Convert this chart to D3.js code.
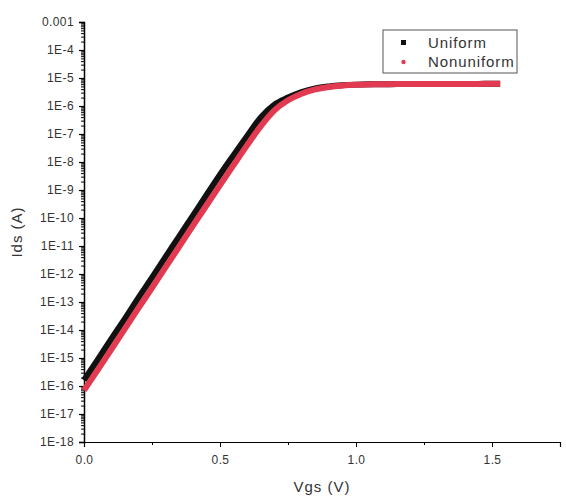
<!DOCTYPE html>
<html>
<head>
<meta charset="utf-8">
<script src="https://cdn.jsdelivr.net/npm/d3@7"></script>
<style>
  body { margin: 0; background: #fff; }
  text { font-family: "Liberation Sans", Arial, sans-serif; fill: #333; }
</style>
</head>
<body>
<div id="chart"></div>
<script>
var vgs = [0, 0.05, 0.1, 0.15, 0.2, 0.25, 0.3, 0.35, 0.4, 0.45, 0.5, 0.55, 0.6, 0.65, 0.7, 0.75,
	0.8, 0.85, 0.9, 0.95, 1.0, 1.05, 1.1, 1.15, 1.2, 1.25, 1.3, 1.35, 1.4, 1.45, 1.5, 1.53];

var uniform = [1.6e-16, 8.5e-16, 4.7e-15, 2.5e-14, 1.4e-13, 7.4e-13, 4.1e-12, 2.2e-11, 1.2e-10, 6.5e-10,
	3.5e-9, 1.75e-8, 8.5e-8, 3.9e-7, 1.12e-6, 2.0e-6, 3.16e-6, 4.27e-6, 5.0e-6, 5.5e-6,
	5.8e-6, 5.95e-6, 6.0e-6, 6.05e-6, 6.1e-6, 6.1e-6, 6.1e-6, 6.15e-6, 6.15e-6, 6.15e-6, 6.2e-6, 6.2e-6];

var nonuniform = [7.0e-17, 3.7e-16, 2.0e-15, 1.1e-14, 6.0e-14, 3.2e-13, 1.75e-12, 9.5e-12, 5.2e-11, 2.8e-10,
	1.5e-9, 7.8e-9, 4.0e-8, 1.9e-7, 7.0e-7, 1.6e-6, 2.75e-6, 3.9e-6, 4.8e-6, 5.4e-6,
	5.75e-6, 5.9e-6, 6.0e-6, 6.05e-6, 6.05e-6, 6.1e-6, 6.1e-6, 6.15e-6, 6.15e-6, 6.15e-6, 6.2e-6, 6.2e-6];

var xTicks = [0, 0.5, 1.0, 1.5],
	xMinor = [0.25, 0.75, 1.25, 1.75],
	yTicks = [1e-18, 1e-17, 1e-16, 1e-15, 1e-14, 1e-13, 1e-12, 1e-11, 1e-10, 1e-9, 1e-8, 1e-7, 1e-6, 1e-5, 1e-4, 1e-3],
	seriesNames = ["Uniform", "Nonuniform"];

var width = 566,
	height = 498,
	margin = {top: 22, right: 6, bottom: 56, left: 84};

var svg = d3.select("#chart")
	.append("svg")
	.attr("width", width)
	.attr("height", height);

var x = d3.scaleLinear().domain([0, 1.75]).range([margin.left, width - margin.right]);
var y = d3.scaleLog().domain([1e-18, 1e-3]).range([height - margin.bottom, margin.top]);

// minor log ticks on y
var yMinor = [];
yTicks.slice(0, -1).forEach(function(t){
	for (var k = 2; k < 10; k++) yMinor.push(t * k);
});

svg.append("g")
	.attr("transform", "translate(" + margin.left + ",0)")
	.call(d3.axisLeft(y).tickValues(yMinor).tickSize(3).tickFormat(""))
	.call(function(g){ g.select(".domain").remove(); });

svg.append("g")
	.attr("transform", "translate(" + margin.left + ",0)")
	.call(d3.axisLeft(y).tickValues(yTicks).tickSize(5).tickPadding(5)
		.tickFormat(function(d){
			var e = Math.round(Math.log10(d));
			return e === -3 ? "0.001" : "1E" + e;
		}))
	.call(function(g){
		g.select(".domain").attr("stroke-width", 1.5);
		g.selectAll(".tick line").attr("stroke-width", 1.2);
		g.selectAll("text").style("font-size", "12px").style("letter-spacing", "0.4px").attr("fill", "#555");
	});

svg.append("g")
	.attr("transform", "translate(0," + (height - margin.bottom) + ")")
	.call(d3.axisBottom(x).tickValues(xMinor).tickSize(3).tickFormat(""))
	.call(function(g){ g.select(".domain").remove(); });

svg.append("g")
	.attr("transform", "translate(0," + (height - margin.bottom) + ")")
	.call(d3.axisBottom(x).tickValues(xTicks).tickSize(5).tickPadding(8).tickFormat(d3.format(".1f")))
	.call(function(g){
		g.select(".domain").attr("stroke-width", 1.2);
		g.selectAll("text").style("font-size", "12px").style("letter-spacing", "0.4px").attr("fill", "#555");
	});

var line = d3.line()
	.x(function(d){ return x(d[0]); })
	.y(function(d){ return y(d[1]); })
	.curve(d3.curveMonotoneX);

svg.append("path")
	.datum(d3.zip(vgs, uniform))
	.attr("d", line)
	.attr("fill", "none")
	.attr("stroke", "#111")
	.attr("stroke-width", 6);

svg.append("path")
	.datum(d3.zip(vgs, nonuniform))
	.attr("d", line)
	.attr("fill", "none")
	.attr("stroke", "#e23a50")
	.attr("stroke-width", 6);

// axis titles
svg.append("text")
	.attr("x", (margin.left + width - margin.right) / 2)
	.attr("y", 492)
	.attr("text-anchor", "middle")
	.style("font-size", "15px")
	.style("letter-spacing", "1px")
	.text("Vgs (V)");

svg.append("text")
	.attr("transform", "translate(22," + ((margin.top + height - margin.bottom) / 2) + ") rotate(-90)")
	.attr("text-anchor", "middle")
	.style("font-size", "15px")
	.style("letter-spacing", "1px")
	.text("Ids (A)");

// legend
var legend = svg.append("g");
legend.append("rect")
	.attr("x", 383).attr("y", 30)
	.attr("width", 134).attr("height", 43)
	.attr("fill", "none")
	.attr("stroke", "#555");
legend.append("rect")
	.attr("x", 401).attr("y", 40)
	.attr("width", 5).attr("height", 5)
	.attr("fill", "#111");
legend.append("circle")
	.attr("cx", 403.5).attr("cy", 62)
	.attr("r", 2.2)
	.attr("fill", "#e23a50");
legend.selectAll("text.lg")
	.data(seriesNames)
	.enter()
	.append("text")
	.attr("class", "lg")
	.attr("x", 428)
	.attr("y", function(d, i){ return 48 + i * 19; })
	.style("font-size", "15px")
	.style("letter-spacing", "0.9px")
	.text(function(d){ return d; });
</script>
</body>
</html>
